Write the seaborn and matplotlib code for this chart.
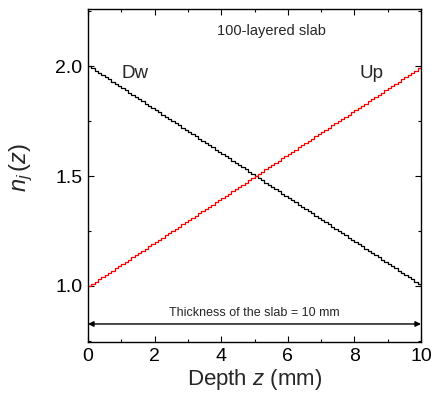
import numpy as np
import pandas as pd
import seaborn as sns
import matplotlib
matplotlib.use("Agg")
import matplotlib.pyplot as plt
from matplotlib.ticker import MultipleLocator

# ---- data: 100-layered slab, layer boundaries (mm) and refractive index per boundary ----
depth_mm = [0.0, 0.1, 0.2, 0.3, 0.4, 0.5, 0.6, 0.7, 0.8, 0.9,
            1.0, 1.1, 1.2, 1.3, 1.4, 1.5, 1.6, 1.7, 1.8, 1.9,
            2.0, 2.1, 2.2, 2.3, 2.4, 2.5, 2.6, 2.7, 2.8, 2.9,
            3.0, 3.1, 3.2, 3.3, 3.4, 3.5, 3.6, 3.7, 3.8, 3.9,
            4.0, 4.1, 4.2, 4.3, 4.4, 4.5, 4.6, 4.7, 4.8, 4.9,
            5.0, 5.1, 5.2, 5.3, 5.4, 5.5, 5.6, 5.7, 5.8, 5.9,
            6.0, 6.1, 6.2, 6.3, 6.4, 6.5, 6.6, 6.7, 6.8, 6.9,
            7.0, 7.1, 7.2, 7.3, 7.4, 7.5, 7.6, 7.7, 7.8, 7.9,
            8.0, 8.1, 8.2, 8.3, 8.4, 8.5, 8.6, 8.7, 8.8, 8.9,
            9.0, 9.1, 9.2, 9.3, 9.4, 9.5, 9.6, 9.7, 9.8, 9.9, 10.0]
n_dw = [2.00, 1.99, 1.98, 1.97, 1.96, 1.95, 1.94, 1.93, 1.92, 1.91,
        1.90, 1.89, 1.88, 1.87, 1.86, 1.85, 1.84, 1.83, 1.82, 1.81,
        1.80, 1.79, 1.78, 1.77, 1.76, 1.75, 1.74, 1.73, 1.72, 1.71,
        1.70, 1.69, 1.68, 1.67, 1.66, 1.65, 1.64, 1.63, 1.62, 1.61,
        1.60, 1.59, 1.58, 1.57, 1.56, 1.55, 1.54, 1.53, 1.52, 1.51,
        1.50, 1.49, 1.48, 1.47, 1.46, 1.45, 1.44, 1.43, 1.42, 1.41,
        1.40, 1.39, 1.38, 1.37, 1.36, 1.35, 1.34, 1.33, 1.32, 1.31,
        1.30, 1.29, 1.28, 1.27, 1.26, 1.25, 1.24, 1.23, 1.22, 1.21,
        1.20, 1.19, 1.18, 1.17, 1.16, 1.15, 1.14, 1.13, 1.12, 1.11,
        1.10, 1.09, 1.08, 1.07, 1.06, 1.05, 1.04, 1.03, 1.02, 1.01, 1.00]
n_up = [1.00, 1.01, 1.02, 1.03, 1.04, 1.05, 1.06, 1.07, 1.08, 1.09,
        1.10, 1.11, 1.12, 1.13, 1.14, 1.15, 1.16, 1.17, 1.18, 1.19,
        1.20, 1.21, 1.22, 1.23, 1.24, 1.25, 1.26, 1.27, 1.28, 1.29,
        1.30, 1.31, 1.32, 1.33, 1.34, 1.35, 1.36, 1.37, 1.38, 1.39,
        1.40, 1.41, 1.42, 1.43, 1.44, 1.45, 1.46, 1.47, 1.48, 1.49,
        1.50, 1.51, 1.52, 1.53, 1.54, 1.55, 1.56, 1.57, 1.58, 1.59,
        1.60, 1.61, 1.62, 1.63, 1.64, 1.65, 1.66, 1.67, 1.68, 1.69,
        1.70, 1.71, 1.72, 1.73, 1.74, 1.75, 1.76, 1.77, 1.78, 1.79,
        1.80, 1.81, 1.82, 1.83, 1.84, 1.85, 1.86, 1.87, 1.88, 1.89,
        1.90, 1.91, 1.92, 1.93, 1.94, 1.95, 1.96, 1.97, 1.98, 1.99, 2.00]
x_ticks = [0, 2, 4, 6, 8, 10]
y_ticks = [1.0, 1.5, 2.0]
y_tick_labels = ["1.0", "1.5", "2.0"]
slab_thickness_mm = 10

sns.set_theme(style="ticks")
plt.rcParams["font.family"] = ["Liberation Sans", "DejaVu Sans"]
plt.rcParams["mathtext.fontset"] = "custom"
plt.rcParams["mathtext.rm"] = "Liberation Sans"
plt.rcParams["mathtext.it"] = "Liberation Sans:italic"

fig = plt.figure(figsize=(4.33, 3.98), dpi=100)
ax = fig.add_axes([88 / 433, 1 - 342 / 398, (421 - 88) / 433, (342 - 9) / 398])

df_dw = pd.DataFrame({"z": depth_mm, "n": n_dw})
df_up = pd.DataFrame({"z": depth_mm, "n": n_up})
sns.lineplot(data=df_dw, x="z", y="n", ax=ax, color="black", lw=0.9,
             drawstyle="steps-post", estimator=None, sort=False)
sns.lineplot(data=df_up, x="z", y="n", ax=ax, color="red", lw=0.9,
             drawstyle="steps-post", estimator=None, sort=False)

ax.set_xlim(0, 10)
ax.set_ylim(0.745, 2.26)
ax.set_xticks(x_ticks)
ax.set_yticks(y_ticks)
ax.set_yticklabels(y_tick_labels)
ax.xaxis.set_minor_locator(MultipleLocator(1))
ax.yaxis.set_minor_locator(MultipleLocator(0.25))
ax.tick_params(which="both", direction="in", top=True, right=True,
               labelsize=14, width=0.8, colors="black")
ax.tick_params(which="major", length=4, pad=4)
ax.tick_params(which="minor", length=2.5)
for s in ax.spines.values():
    s.set_linewidth(1.0)
    s.set_color("black")

ax.set_xlabel("Depth $\\it{z}$ (mm)", fontsize=16, labelpad=2)
ax.set_ylabel("$n_j\\,(z)$", fontsize=17)
ax.yaxis.set_label_coords(-0.16, 0.523)

ax.text(5.5, 2.16, "100-layered slab", fontsize=10.5, ha="center", va="center")
ax.text(1.0, 1.965, "Dw", fontsize=13.5, ha="left", va="center")
ax.text(8.5, 1.965, "Up", fontsize=13.5, ha="center", va="center")

ax.annotate("", xy=(0, 0.827), xytext=(slab_thickness_mm, 0.827),
            arrowprops=dict(arrowstyle="<|-|>", color="black", lw=1.0,
                            mutation_scale=8, shrinkA=0, shrinkB=0))
ax.text(5.0, 0.877, "Thickness of the slab = 10 mm", fontsize=9,
        ha="center", va="center")

fig.savefig("out.png", dpi=100)
